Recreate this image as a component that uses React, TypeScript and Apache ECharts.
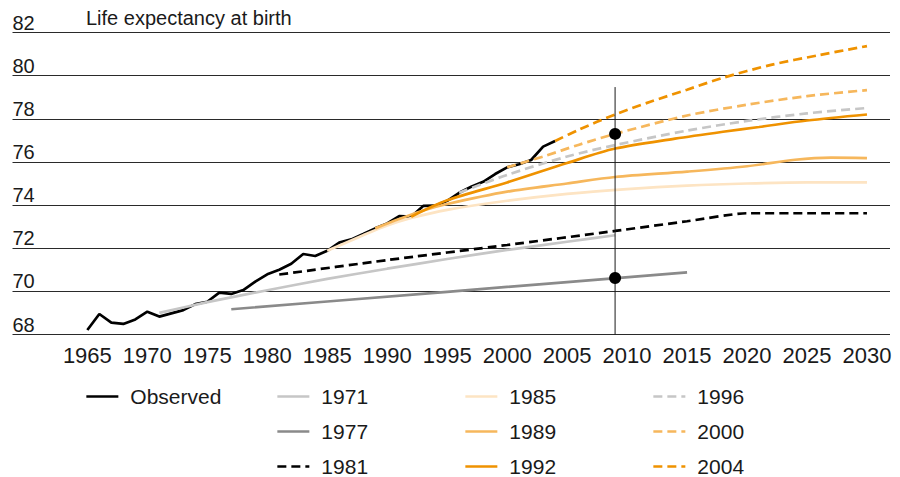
import React, { useEffect, useRef } from "react";
import * as echarts from "echarts";

const FONT = "'Liberation Sans', Arial, Helvetica, sans-serif";

const chartTitle = "Life expectancy at birth";
const xTickLabels = [1965, 1970, 1975, 1980, 1985, 1990, 1995, 2000, 2005, 2010, 2015, 2020, 2025, 2030];

const observedYears = [
  1965, 1966, 1967, 1968, 1969, 1970, 1971, 1972, 1973, 1974,
  1975, 1976, 1977, 1978, 1979, 1980, 1981, 1982, 1983, 1984,
  1985, 1986, 1987, 1988, 1989, 1990, 1991, 1992, 1993, 1994,
  1995, 1996, 1997, 1998, 1999, 2000, 2001, 2002, 2003, 2004,
];
const observedValues = [
  68.21, 68.95, 68.55, 68.49, 68.7, 69.06, 68.83, 68.98, 69.13, 69.41,
  69.52, 69.94, 69.88, 70.06, 70.45, 70.79, 71.0, 71.28, 71.73, 71.64,
  71.88, 72.26, 72.41, 72.66, 72.92, 73.15, 73.49, 73.46, 73.96, 73.97,
  74.2, 74.57, 74.85, 75.08, 75.44, 75.75, 75.89, 76.09, 76.71, 76.97,
];

const p1971Years = [1971, 1975, 1980, 1985, 1990, 1995, 2000, 2005, 2009];
const p1971Values = [69.0, 69.5, 70.05, 70.58, 71.05, 71.5, 71.92, 72.3, 72.6];

const p1977Years = [1977, 1985, 1995, 2005, 2015];
const p1977Values = [69.17, 69.53, 69.98, 70.43, 70.88];

const p1981Years = [1981, 1990, 2000, 2009, 2015, 2020, 2025, 2030];
const p1981Values = [70.78, 71.45, 72.15, 72.8, 73.25, 73.62, 73.62, 73.62];

const p1985Years = [1985, 1988, 1990, 1992, 1995, 2000, 2005, 2010, 2015, 2020, 2025, 2030];
const p1985Values = [71.88, 72.6, 73.05, 73.4, 73.78, 74.2, 74.52, 74.74, 74.9, 75.0, 75.05, 75.05];

const p1989Years = [1989, 1991, 1993, 1995, 2000, 2005, 2009, 2015, 2020, 2024, 2027, 2030];
const p1989Values = [72.92, 73.35, 73.75, 74.05, 74.62, 75.0, 75.3, 75.55, 75.8, 76.1, 76.2, 76.18];

const p1992Years = [1992, 1995, 2000, 2005, 2009, 2014, 2018, 2021, 2025, 2030];
const p1992Values = [73.46, 74.22, 75.05, 75.95, 76.62, 77.08, 77.4, 77.62, 77.92, 78.2];

const p1996Years = [1996, 2000, 2005, 2009, 2015, 2020, 2025, 2030];
const p1996Values = [74.57, 75.4, 76.25, 76.78, 77.45, 77.9, 78.25, 78.5];

const p2000Years = [2000, 2003, 2006, 2009, 2015, 2020, 2025, 2030];
const p2000Values = [75.75, 76.25, 76.8, 77.3, 78.15, 78.65, 79.05, 79.33];

const p2004Years = [2004, 2006, 2009, 2012, 2015, 2018, 2022, 2026, 2030];
const p2004Values = [76.97, 77.5, 78.2, 78.8, 79.35, 79.9, 80.5, 80.95, 81.37];

const markerYear = 2009;
const markerValues = [77.3, 70.62];
const markerLineRange = [79.47, 68];

const pair = (xs: number[], ys: number[]) => xs.map((x, i) => [x, ys[i]]);

export default function App() {
  const ref = useRef<HTMLDivElement>(null);

  useEffect(() => {
    if (!ref.current) return;
    const chart = echarts.init(ref.current, null, { renderer: "svg" });

    const lineSeries = (
      name: string,
      xs: number[],
      ys: number[],
      color: string,
      dashed: boolean,
      smooth: number | boolean = false
    ) => ({
      name,
      type: "line",
      data: pair(xs, ys),
      symbol: "none",
      showSymbol: false,
      smooth,
      lineStyle: { color, width: 2.7, type: dashed ? [9, 5] : "solid", cap: "butt" },
      itemStyle: { color },
      silent: true,
    });

    const legendBase = {
      orient: "vertical",
      top: 386,
      padding: 0,
      itemWidth: 32,
      itemHeight: 20,
      itemGap: 14,
      selectedMode: false,
      itemStyle: { opacity: 0 },
      lineStyle: { width: 2.7 },
      textStyle: {
        fontSize: 21,
        fontFamily: FONT,
        color: "#1a1a1a",
        lineHeight: 20,
        padding: [0, 0, 0, 7],
      },
    };

    chart.setOption({
      animation: false,
      backgroundColor: "#ffffff",
      grid: { left: 12.5, right: 10, top: 32.5, bottom: 142.5, containLabel: false },
      xAxis: {
        type: "value",
        min: 1958.76,
        max: 2031.92,
        axisLine: { show: false },
        axisTick: { show: false },
        splitLine: { show: false },
        axisLabel: {
          customValues: xTickLabels,
          formatter: (v: number) => String(v),
          fontSize: 22,
          fontFamily: FONT,
          color: "#1a1a1a",
          margin: 10,
        },
      },
      yAxis: {
        type: "value",
        min: 68,
        max: 82,
        interval: 2,
        axisLine: { show: false },
        axisTick: { show: false },
        axisLabel: {
          inside: true,
          align: "left",
          verticalAlign: "bottom",
          margin: 0,
          showMinLabel: true,
          showMaxLabel: true,
          fontSize: 20,
          fontFamily: FONT,
          color: "#1a1a1a",
        },
        splitLine: { show: true, lineStyle: { color: "#2a2a2a", width: 1 } },
      },
      graphic: [
        {
          type: "text",
          left: 86,
          top: 8,
          style: {
            text: chartTitle,
            fontSize: 20,
            fontFamily: FONT,
            fill: "#1a1a1a",
          },
        },
      ],
      legend: [
        { ...legendBase, left: 85, data: ["Observed"] },
        { ...legendBase, left: 276, data: ["1971", "1977", "1981"] },
        { ...legendBase, left: 464, data: ["1985", "1989", "1992"] },
        { ...legendBase, left: 652, data: ["1996", "2000", "2004"] },
      ],
      series: [
        lineSeries("Observed", observedYears, observedValues, "#000000", false),
        lineSeries("1971", p1971Years, p1971Values, "#c6c6c6", false, 0.2),
        lineSeries("1977", p1977Years, p1977Values, "#8a8a8a", false),
        lineSeries("1981", p1981Years, p1981Values, "#000000", true, 0.2),
        lineSeries("1985", p1985Years, p1985Values, "#fde4c3", false, 0.3),
        lineSeries("1989", p1989Years, p1989Values, "#f6b75c", false, 0.3),
        lineSeries("1992", p1992Years, p1992Values, "#ef9200", false, 0.3),
        lineSeries("1996", p1996Years, p1996Values, "#c6c6c6", true, 0.3),
        lineSeries("2000", p2000Years, p2000Values, "#f6b75c", true, 0.3),
        lineSeries("2004", p2004Years, p2004Values, "#ef9200", true, 0.3),
        {
          name: "marker-line",
          type: "line",
          data: markerLineRange.map((v) => [markerYear, v]),
          symbol: "none",
          silent: true,
          z: 5,
          lineStyle: { color: "#1a1a1a", width: 1 },
        },
        {
          name: "markers",
          type: "scatter",
          data: markerValues.map((v) => [markerYear, v]),
          symbol: "circle",
          symbolSize: 12,
          silent: true,
          z: 6,
          itemStyle: { color: "#000000", opacity: 1 },
        },
      ],
    });

    return () => chart.dispose();
  }, []);

  return (
    <div
      ref={ref}
      style={{ position: "fixed", left: 0, top: 0, width: 900, height: 477 }}
    />
  );
}
